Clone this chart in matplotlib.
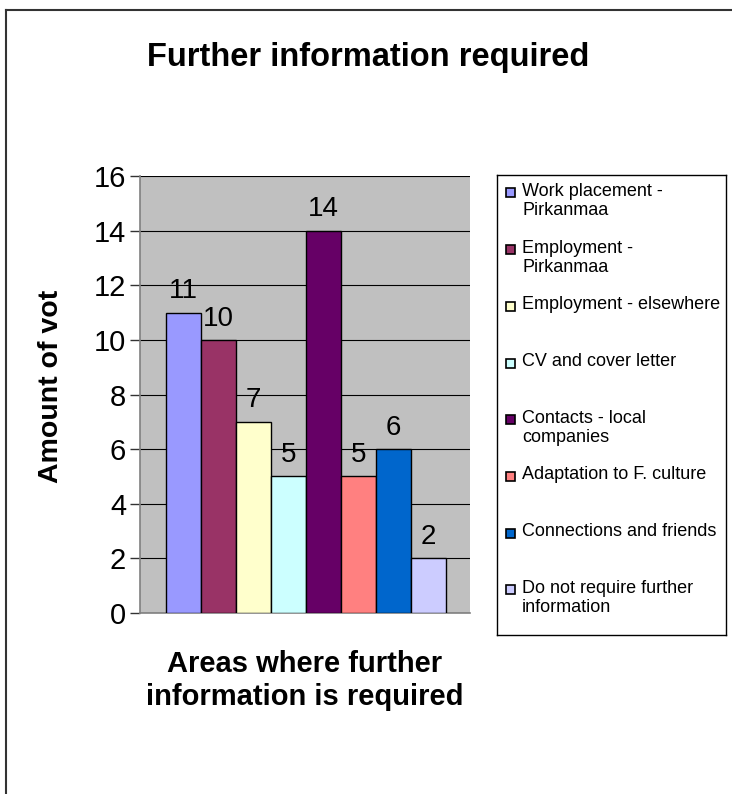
import matplotlib.pyplot as plt
from matplotlib.patches import Rectangle
from matplotlib.lines import Line2D

plt.rcParams['font.family'] = ['Liberation Sans', 'DejaVu Sans']

# Survey data
categories = ['Work placement -\nPirkanmaa', 'Employment -\nPirkanmaa', 'Employment - elsewhere',
              'CV and cover letter', 'Contacts - local\ncompanies', 'Adaptation to F. culture',
              'Connections and friends', 'Do not require further\ninformation']
votes = [11, 10, 7, 5, 14, 5, 6, 2]
colors = ['#9999FF', '#993366', '#FFFFCC', '#CCFFFF', '#660066', '#FF8080', '#0066CC', '#CCCCFF']
yticks = [0, 2, 4, 6, 8, 10, 12, 14, 16]

fig = plt.figure(figsize=(7.32, 7.94), dpi=100)

# outer frame (only top and left edges show in the original)
fig.add_artist(Line2D([6 / 732, 6 / 732], [0, 1 - 10 / 794], color='#333333', lw=1.5))
fig.add_artist(Line2D([6 / 732, 1], [1 - 10 / 794, 1 - 10 / 794], color='#333333', lw=1.5))

ax = fig.add_axes([140 / 732, 181 / 794, 330 / 732, 437 / 794])
ax.set_facecolor('#C0C0C0')
x = list(range(len(votes)))
bars = ax.bar(x, votes, width=1.0, color=colors, edgecolor='black', linewidth=1, zorder=3)
ax.bar_label(bars, labels=[str(v) for v in votes], padding=6, fontsize=20)

ax.set_xlim(-1.24, 8.19)
ax.set_ylim(0, 16)
ax.set_yticks(yticks)
ax.set_xticks([])
ax.tick_params(axis='y', labelsize=21, length=7, color='#333333', width=1, pad=3)
ax.grid(axis='y', color='black', linewidth=0.8, zorder=0)
ax.set_axisbelow(True)
for s in ['top', 'right']:
    ax.spines[s].set_visible(False)
for s in ['left', 'bottom']:
    ax.spines[s].set_color('#808080')
    ax.spines[s].set_linewidth(1.2)

ax.set_ylabel('Amount of vot', fontsize=20.5, fontweight='bold')
ax.yaxis.set_label_coords(-0.23, 0.519)
ax.set_xlabel('Areas where further\ninformation is required', fontsize=21, fontweight='bold',
              labelpad=27, linespacing=1.2)

fig.text(0.503, 0.928, 'Further information required', fontsize=23.5, fontweight='bold',
         ha='center', va='center')

# legend drawn as its own box with evenly spaced slots
lax = fig.add_axes([497 / 732, 159 / 794, 229 / 732, 460 / 794])
lax.set_xlim(0, 229)
lax.set_ylim(460, 0)
lax.set_xticks([])
lax.set_yticks([])
for s in lax.spines.values():
    s.set_color('black')
    s.set_linewidth(1)
for i, (lab, c) in enumerate(zip(categories, colors)):
    yc = 18 + i * 56.7
    lax.add_patch(Rectangle((9, yc - 4.5), 9, 9, facecolor=c, edgecolor='black', lw=1.2))
    lax.text(25, yc - 10, lab, fontsize=13, va='top', ha='left', linespacing=1.15)

plt.savefig('out.png', dpi=100)
